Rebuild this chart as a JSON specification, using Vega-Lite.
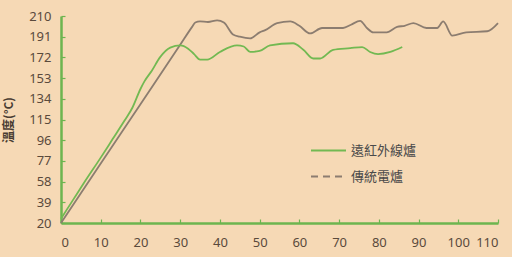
{
  "$schema": "https://vega.github.io/schema/vega-lite/v6.json",
  "width": 437,
  "height": 207,
  "autosize": {"type": "none"},
  "padding": {"left": 61, "top": 16, "right": 14, "bottom": 34},
  "background": "#F6D9B5",
  "config": {
    "view": {"stroke": null},
    "font": "Noto Sans"
  },
  "data": {
    "values": [
      {"t": 0, "temp": 20, "s": "傳統電爐"},
      {"t": 10, "temp": 74.5, "s": "傳統電爐"},
      {"t": 20, "temp": 129, "s": "傳統電爐"},
      {"t": 30, "temp": 183.5, "s": "傳統電爐"},
      {"t": 33, "temp": 200, "s": "傳統電爐"},
      {"t": 33.8, "temp": 204, "s": "傳統電爐"},
      {"t": 35, "temp": 205, "s": "傳統電爐"},
      {"t": 37, "temp": 204.5, "s": "傳統電爐"},
      {"t": 39.3, "temp": 206, "s": "傳統電爐"},
      {"t": 41, "temp": 204, "s": "傳統電爐"},
      {"t": 43.3, "temp": 193, "s": "傳統電爐"},
      {"t": 45, "temp": 191, "s": "傳統電爐"},
      {"t": 47.6, "temp": 189.5, "s": "傳統電爐"},
      {"t": 50, "temp": 195, "s": "傳統電爐"},
      {"t": 51.4, "temp": 197, "s": "傳統電爐"},
      {"t": 54.4, "temp": 203.5, "s": "傳統電爐"},
      {"t": 57.7, "temp": 205, "s": "傳統電爐"},
      {"t": 60, "temp": 201, "s": "傳統電爐"},
      {"t": 62.7, "temp": 194, "s": "傳統電爐"},
      {"t": 65.7, "temp": 199, "s": "傳統電爐"},
      {"t": 67, "temp": 199, "s": "傳統電爐"},
      {"t": 71, "temp": 199, "s": "傳統電爐"},
      {"t": 73, "temp": 202, "s": "傳統電爐"},
      {"t": 75.3, "temp": 205.5, "s": "傳統電爐"},
      {"t": 77, "temp": 199, "s": "傳統電爐"},
      {"t": 78.6, "temp": 195, "s": "傳統電爐"},
      {"t": 82, "temp": 195, "s": "傳統電爐"},
      {"t": 84.6, "temp": 200, "s": "傳統電爐"},
      {"t": 86.5, "temp": 201, "s": "傳統電爐"},
      {"t": 88.7, "temp": 203.5, "s": "傳統電爐"},
      {"t": 92, "temp": 199, "s": "傳統電爐"},
      {"t": 94.7, "temp": 199, "s": "傳統電爐"},
      {"t": 96.2, "temp": 205, "s": "傳統電爐"},
      {"t": 98.5, "temp": 192, "s": "傳統電爐"},
      {"t": 102, "temp": 195, "s": "傳統電爐"},
      {"t": 107.3, "temp": 196, "s": "傳統電爐"},
      {"t": 110, "temp": 203.5, "s": "傳統電爐"},
      {"t": 0, "temp": 24, "s": "遠紅外線爐"},
      {"t": 3, "temp": 41, "s": "遠紅外線爐"},
      {"t": 6, "temp": 58, "s": "遠紅外線爐"},
      {"t": 10, "temp": 80, "s": "遠紅外線爐"},
      {"t": 13, "temp": 97, "s": "遠紅外線爐"},
      {"t": 16, "temp": 114, "s": "遠紅外線爐"},
      {"t": 18, "temp": 126, "s": "遠紅外線爐"},
      {"t": 20, "temp": 143, "s": "遠紅外線爐"},
      {"t": 21, "temp": 150, "s": "遠紅外線爐"},
      {"t": 22.9, "temp": 160, "s": "遠紅外線爐"},
      {"t": 24.9, "temp": 172, "s": "遠紅外線爐"},
      {"t": 27.5, "temp": 181, "s": "遠紅外線爐"},
      {"t": 30, "temp": 183, "s": "遠紅外線爐"},
      {"t": 32, "temp": 180, "s": "遠紅外線爐"},
      {"t": 33.5, "temp": 175, "s": "遠紅外線爐"},
      {"t": 35, "temp": 170, "s": "遠紅外線爐"},
      {"t": 36.8, "temp": 170, "s": "遠紅外線爐"},
      {"t": 40, "temp": 177, "s": "遠紅外線爐"},
      {"t": 44.3, "temp": 183, "s": "遠紅外線爐"},
      {"t": 46, "temp": 182, "s": "遠紅外線爐"},
      {"t": 47.6, "temp": 177, "s": "遠紅外線爐"},
      {"t": 50, "temp": 178, "s": "遠紅外線爐"},
      {"t": 52.6, "temp": 183, "s": "遠紅外線爐"},
      {"t": 58.4, "temp": 185, "s": "遠紅外線爐"},
      {"t": 61, "temp": 179, "s": "遠紅外線爐"},
      {"t": 63.5, "temp": 171, "s": "遠紅外線爐"},
      {"t": 65.2, "temp": 171, "s": "遠紅外線爐"},
      {"t": 68.5, "temp": 179, "s": "遠紅外線爐"},
      {"t": 72.8, "temp": 180.5, "s": "遠紅外線爐"},
      {"t": 75.8, "temp": 181.5, "s": "遠紅外線爐"},
      {"t": 77.8, "temp": 177, "s": "遠紅外線爐"},
      {"t": 79.8, "temp": 175, "s": "遠紅外線爐"},
      {"t": 82.9, "temp": 177, "s": "遠紅外線爐"},
      {"t": 85.9, "temp": 181.5, "s": "遠紅外線爐"}
    ]
  },
  "mark": {"type": "line", "interpolate": "monotone", "strokeWidth": 1.8},
  "encoding": {
    "x": {
      "field": "t", "type": "quantitative",
      "scale": {"domain": [0, 110], "nice": false, "zero": false},
      "axis": {
        "values": [0, 10, 20, 30, 40, 50, 60, 70, 80, 90, 100, 110],
        "grid": false, "title": null,
        "domainColor": "#6DB54F", "domainWidth": 2.5,
        "tickColor": "#6DB54F", "tickSize": -4, "tickWidth": 1.2,
        "labelFontSize": 13, "labelColor": "#5a4a3c", "labelPadding": 17
      }
    },
    "y": {
      "field": "temp", "type": "quantitative",
      "scale": {"domain": [20, 210], "nice": false, "zero": false},
      "axis": {
        "values": [20, 39, 58, 77, 96, 115, 134, 153, 172, 191, 210],
        "grid": false, "title": "溫度(°C)",
        "titleFont": "Noto Sans CJK TC", "titleFontSize": 12, "titleFontWeight": "bold",
        "titleColor": "#4a3d33", "titleX": -46,
        "domainColor": "#6DB54F", "domainWidth": 2.5,
        "tickColor": "#6DB54F", "tickSize": -4, "tickWidth": 1.2,
        "labelFontSize": 13, "labelColor": "#5a4a3c", "labelPadding": 14
      }
    },
    "color": {
      "field": "s", "type": "nominal",
      "scale": {"domain": ["遠紅外線爐", "傳統電爐"], "range": ["#72B952", "#8C7D70"]},
      "legend": {
        "title": null, "orient": "none", "legendX": 249, "legendY": 116,
        "symbolType": "stroke", "symbolSize": 1225, "symbolStrokeWidth": 2,
        "labelFont": "Noto Sans CJK TC", "labelFontSize": 13, "labelColor": "#4a4a4a",
        "labelOffset": 4, "rowPadding": -8,
        "encode": {
          "symbols": {
            "update": {
              "strokeDash": {"signal": "datum.value === '傳統電爐' ? [7, 5] : [1, 0]"}
            }
          }
        }
      }
    }
  }
}
